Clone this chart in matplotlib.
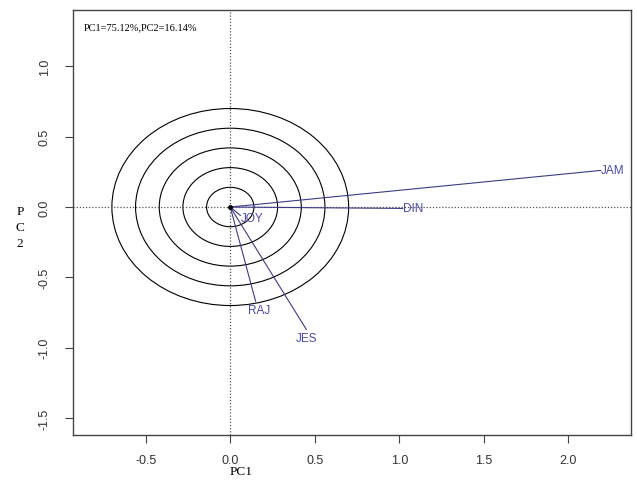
import numpy as np
import matplotlib
matplotlib.use("Agg")
import matplotlib.pyplot as plt
from matplotlib.patches import Ellipse

# loadings
labels = ["JAM", "DIN", "JOY", "RAJ", "JES"]
pc1 = [2.19, 1.02, 0.06, 0.15, 0.45]
pc2 = [0.26, -0.01, -0.06, -0.67, -0.87]
radii = [0.14, 0.28, 0.42, 0.56, 0.70]

xticks = [-0.5, 0.0, 0.5, 1.0, 1.5, 2.0]
yticks = [-1.5, -1.0, -0.5, 0.0, 0.5, 1.0]

arrow_col = "#3c3c88"
text_col = "#4a4aa8"

fig = plt.figure(figsize=(6.37, 4.81), dpi=100)
ax = fig.add_axes([73 / 637, 45 / 481, 558 / 637, 425 / 481])

ax.set_xlim(-0.93, 2.37)
ax.set_ylim(-1.62, 1.40)

for r in radii:
    ax.add_patch(Ellipse((0, 0), 2 * r, 2 * r, fill=False, ec="black", lw=0.8))

ax.axhline(0, color="#555555", ls=(0, (1, 1.5)), lw=0.9)
ax.axvline(0, color="#555555", ls=(0, (1, 1.5)), lw=0.9)

# label placement per variable
place = {
    "JAM": ("left", "center", 0.0, 0.0),
    "DIN": ("left", "center", 0.0, 0.0),
    "JOY": ("left", "center", 0.0, -0.02),
    "RAJ": ("center", "top", 0.02, -0.02),
    "JES": ("center", "top", 0.0, -0.02),
}
for lab, x, y in zip(labels, pc1, pc2):
    ax.plot([0, x], [0, y], color=arrow_col, lw=0.8)
    ha, va, dx, dy = place[lab]
    ax.text(x + dx, y + dy, lab, color=text_col, fontsize=8.5, ha=ha, va=va,
            family="Liberation Sans")
ax.plot(0, 0, "o", color="black", ms=2.5)

ax.text(0.02, 0.97, "PC1=75.12%,PC2=16.14%", transform=ax.transAxes,
        fontsize=7.5, family="Liberation Serif", va="top", ha="left")

ax.set_xticks(xticks)
ax.set_yticks(yticks)
ax.set_xticklabels([f"{t:.1f}" for t in xticks], fontsize=9, family="Liberation Sans",
                   color="#333333")
ax.set_yticklabels([f"{t:.1f}" for t in yticks], fontsize=9, family="Liberation Sans",
                   color="#333333", rotation=90, va="center")
ax.tick_params(length=6, width=0.8, color="#444444", pad=4)
ax.tick_params(axis="x", pad=8)
ax.tick_params(axis="y", pad=10)
for s in ax.spines.values():
    s.set_color("#444444")
    s.set_linewidth(1.0)

fig.text(230 / 637, 1 - 472 / 481, "PC1", fontsize=9.5, family="Liberation Serif",
         ha="left", va="center")
fig.text(20 / 637, 1 - 228 / 481, "P\nC\n2", fontsize=9.5, family="Liberation Serif",
         ha="center", va="center", linespacing=1.4)

fig.savefig("out.png", dpi=100)
